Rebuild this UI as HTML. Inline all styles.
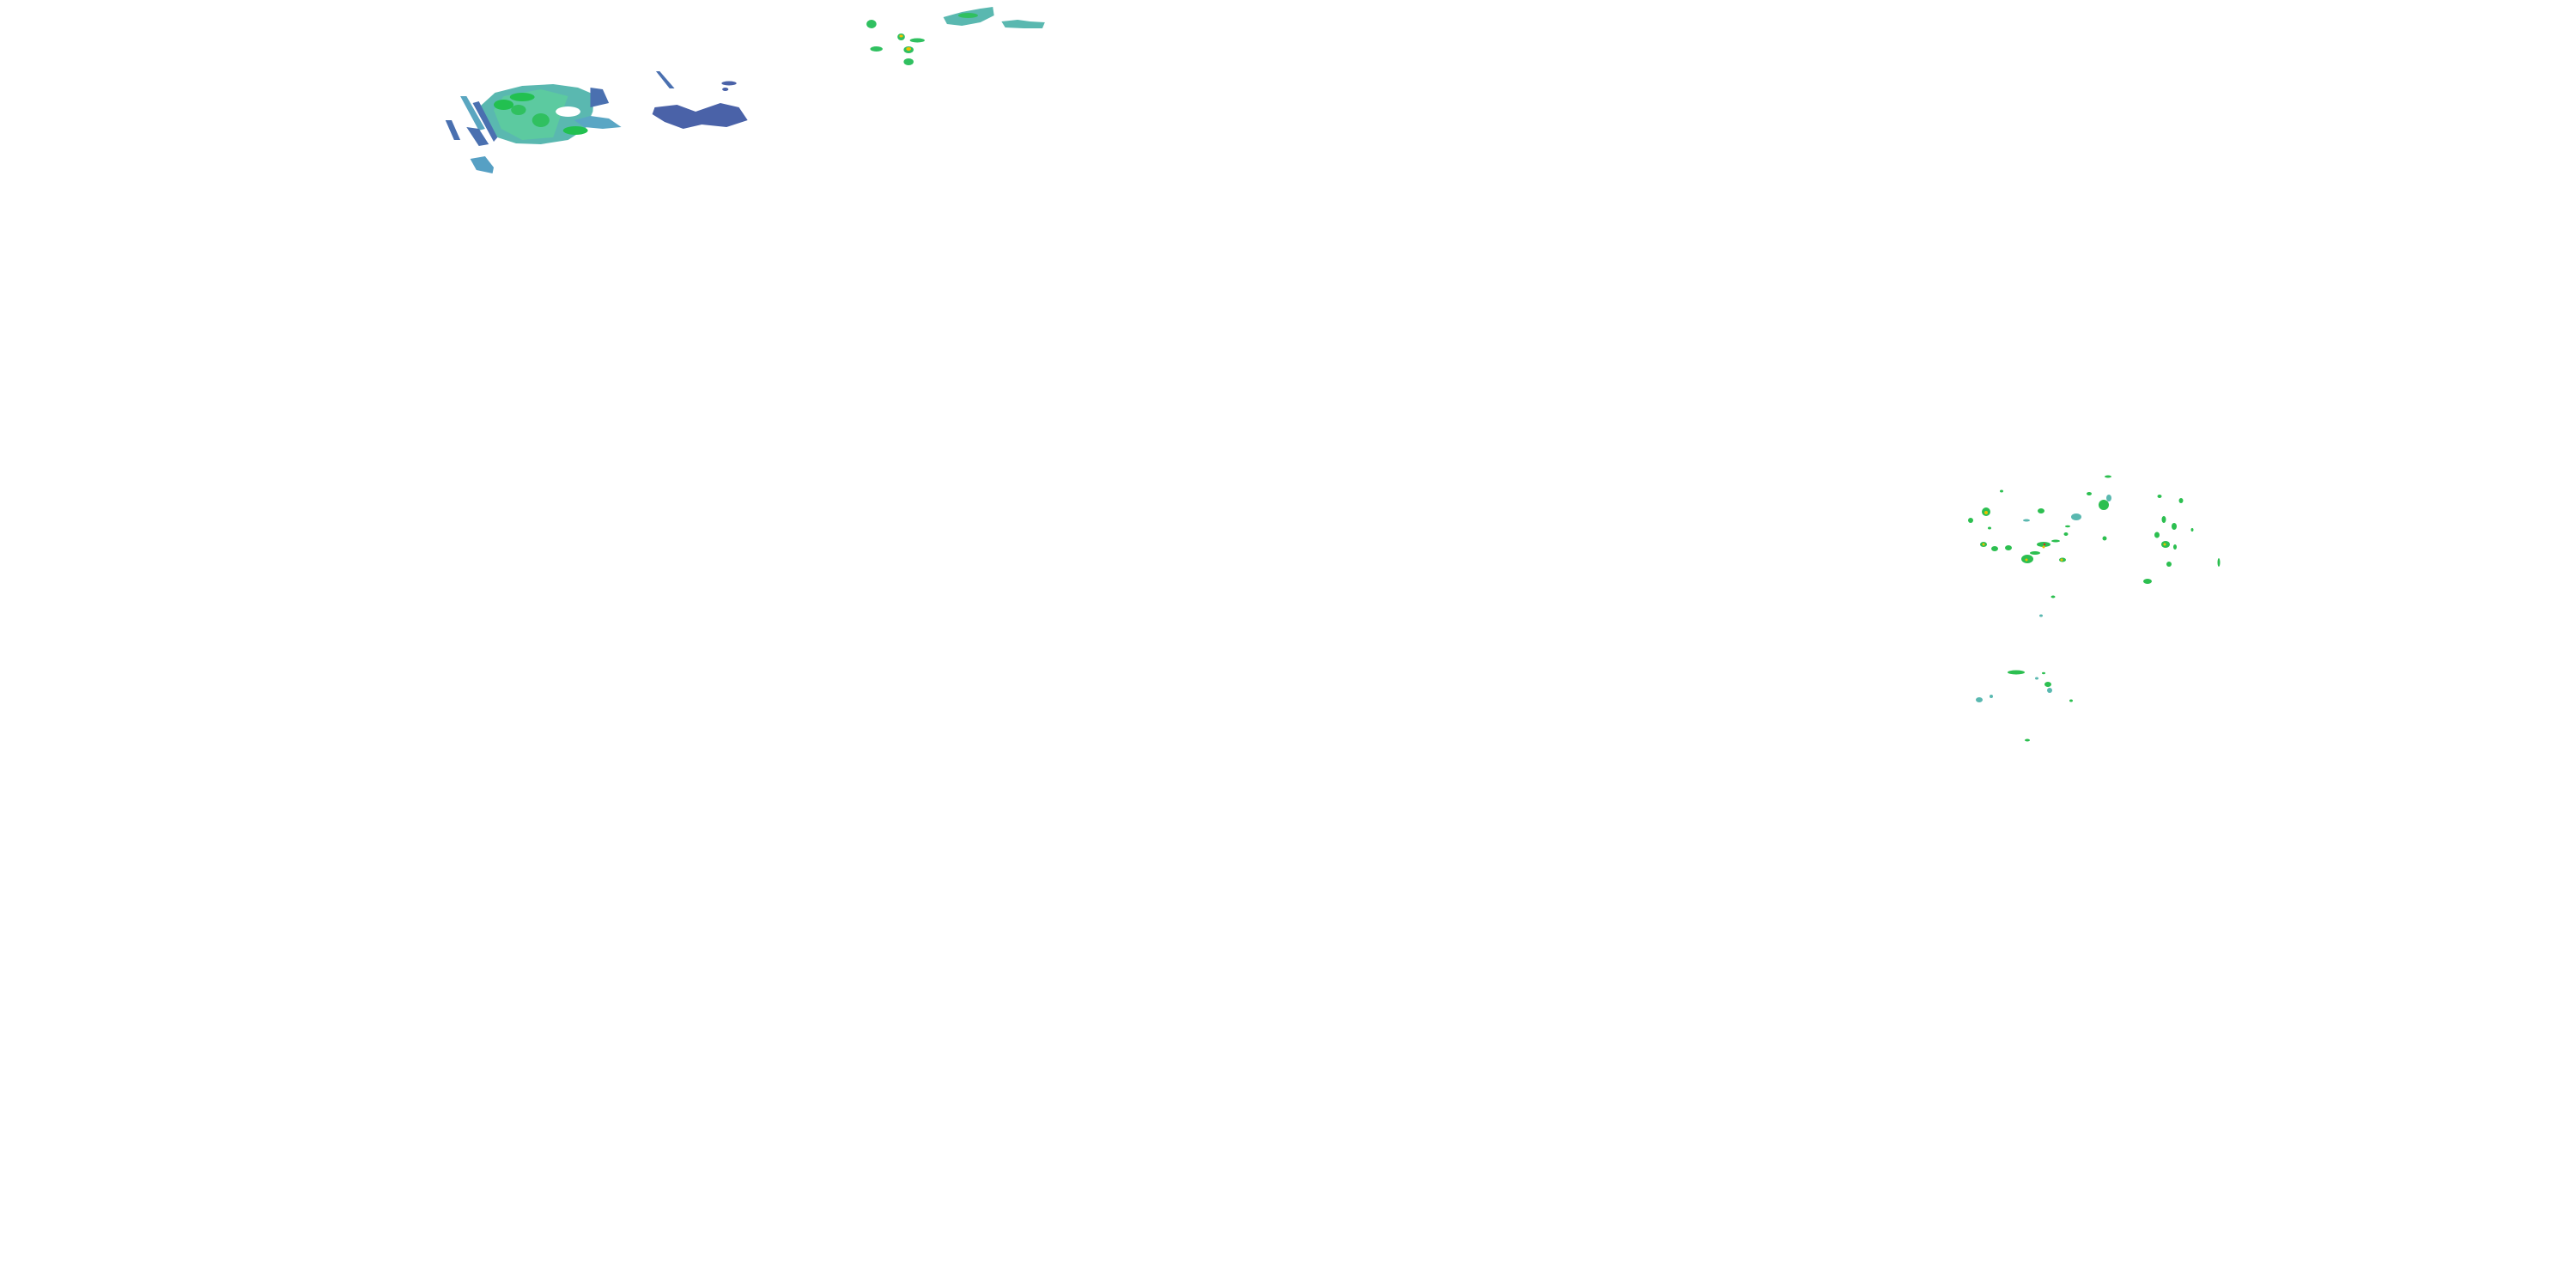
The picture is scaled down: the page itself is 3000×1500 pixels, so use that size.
<!DOCTYPE html>
<html><head><meta charset="utf-8"><style>html,body{margin:0;padding:0;background:#fff}svg{display:block}</style></head>
<body>
<svg width="3000" height="1500" viewBox="0 0 3000 1500" xmlns="http://www.w3.org/2000/svg">
<rect width="3000" height="1500" fill="#fff"/>
<g transform="translate(500,0) scale(1.4423,1) translate(-500,0)">
<g>
<polygon points="553,108 575,100 600,98 620,102 633,110 632,130 626,150 612,163 590,168 570,167 555,160 545,145 540,125" fill="#5ab8b0"/>
<polygon points="560,112 590,104 612,112 606,135 600,160 575,163 558,150 552,128" fill="#5ccaa0"/>
<ellipse cx="575" cy="113" rx="10" ry="5" fill="#22c050"/>
<ellipse cx="560" cy="122" rx="8" ry="6" fill="#22c050"/>
<ellipse cx="572" cy="128" rx="6" ry="6" fill="#30c060"/>
<ellipse cx="590" cy="140" rx="7" ry="8" fill="#30c060"/>
<ellipse cx="618" cy="152" rx="10" ry="5" fill="#22c050"/>
<ellipse cx="612" cy="130" rx="10" ry="6" fill="#fff"/>
<polygon points="535,120 540,118 555,160 552,165" fill="#4a70b0"/>
<polygon points="525,112 530,112 545,150 540,152" fill="#5aa6c0"/>
<polygon points="513,140 518,140 525,163 520,163" fill="#4a70b0"/>
<polygon points="530,148 540,150 548,168 540,170" fill="#4a70b0"/>
<polygon points="533,185 545,182 552,195 551,202 538,198" fill="#56a0c4"/>
<polygon points="617,140 630,135 645,138 655,148 640,150 625,148" fill="#5aa6c4"/>
<polygon points="630,102 640,104 645,120 630,125" fill="#4a70b0"/>
</g>
<polygon points="682,125 700,122 715,130 735,120 750,125 757,140 740,148 720,145 705,150 690,142 680,133" fill="#4a62a8"/>
<polygon points="683,83 686,83 698,103 694,103" fill="#4a70b0"/>
<ellipse cx="742" cy="97" rx="6" ry="2.5" fill="#4a62a8"/>
<ellipse cx="739" cy="104" rx="2.5" ry="2" fill="#4a62a8"/>
<polygon points="915,20 930,14 945,10 955,8 956,18 945,26 930,30 918,28" fill="#5ab8b0"/>
<ellipse cx="935" cy="18" rx="8" ry="3" fill="#30c060"/>
<polygon points="962,25 975,23 985,25 997,26 995,33 980,33 965,32" fill="#5ab8b0"/>
<g fill="#30c060">
<ellipse cx="857" cy="28" rx="4" ry="5"/>
<ellipse cx="881" cy="43" rx="3" ry="4"/>
<ellipse cx="894" cy="47" rx="6" ry="2.5"/>
<ellipse cx="887" cy="58" rx="4" ry="4"/>
<ellipse cx="861" cy="57" rx="5" ry="3"/>
<ellipse cx="887" cy="72" rx="4" ry="4"/>
</g>
<circle cx="887" cy="57" r="2" fill="#f0c000"/>
<circle cx="881" cy="42" r="1.5" fill="#f0c000"/>
</g>
<g fill="#2cbf50">
<ellipse cx="2313" cy="596" rx="5" ry="5"/><ellipse cx="2295" cy="606" rx="3" ry="3"/>
<ellipse cx="2310" cy="634" rx="4" ry="3"/><ellipse cx="2323" cy="639" rx="4" ry="3"/>
<ellipse cx="2339" cy="638" rx="4" ry="3"/><ellipse cx="2361" cy="651" rx="7" ry="5"/>
<ellipse cx="2370" cy="644" rx="6" ry="2"/><ellipse cx="2380" cy="634" rx="8" ry="3"/>
<ellipse cx="2377" cy="595" rx="4" ry="3"/><ellipse cx="2450" cy="588" rx="6" ry="6"/>
<ellipse cx="2433" cy="575" rx="3" ry="2"/><ellipse cx="2455" cy="555" rx="4" ry="1.5"/>
<ellipse cx="2402" cy="652" rx="4" ry="2.5"/><ellipse cx="2406" cy="622" rx="2.5" ry="2"/>
<ellipse cx="2451" cy="627" rx="2.5" ry="2.5"/><ellipse cx="2515" cy="578" rx="2.5" ry="2"/>
<ellipse cx="2540" cy="583" rx="2.5" ry="3"/><ellipse cx="2520" cy="605" rx="2.5" ry="4"/>
<ellipse cx="2532" cy="613" rx="3" ry="4"/><ellipse cx="2512" cy="623" rx="3" ry="3.5"/>
<ellipse cx="2522" cy="634" rx="5" ry="4"/><ellipse cx="2533" cy="637" rx="2" ry="3"/>
<ellipse cx="2526" cy="657" rx="3" ry="3"/><ellipse cx="2501" cy="677" rx="5" ry="3"/>
<ellipse cx="2584" cy="655" rx="1.5" ry="5"/><ellipse cx="2553" cy="617" rx="1.5" ry="2"/>
<ellipse cx="2331" cy="572" rx="2" ry="1.5"/><ellipse cx="2317" cy="615" rx="2" ry="1.5"/>
<ellipse cx="2391" cy="695" rx="2.5" ry="1.5"/><ellipse cx="2348" cy="783" rx="10" ry="2.5"/>
<ellipse cx="2380" cy="784" rx="2" ry="1.2"/><ellipse cx="2385" cy="797" rx="4" ry="3"/>
<ellipse cx="2412" cy="816" rx="2" ry="1.5"/><ellipse cx="2361" cy="862" rx="3" ry="1.5"/>
<ellipse cx="2408" cy="613" rx="3" ry="1.2"/><ellipse cx="2394" cy="630" rx="5" ry="1.5"/>
</g>
<g fill="#5ab8b0">
<ellipse cx="2418" cy="602" rx="6" ry="4"/><ellipse cx="2360" cy="606" rx="4" ry="1.5"/>
<ellipse cx="2377" cy="717" rx="2" ry="1.5"/><ellipse cx="2387" cy="804" rx="3" ry="3"/>
<ellipse cx="2372" cy="790" rx="2" ry="1.5"/><ellipse cx="2305" cy="815" rx="4" ry="3"/>
<ellipse cx="2319" cy="811" rx="2" ry="2"/><ellipse cx="2456" cy="580" rx="3" ry="4"/>
</g>
<g fill="#e8c000">
<circle cx="2313" cy="597" r="2"/><circle cx="2310" cy="634" r="1.5"/>
<circle cx="2360" cy="652" r="1.5"/><circle cx="2401" cy="652" r="1.5"/>
<circle cx="2521" cy="634" r="1.5"/><circle cx="2380" cy="637" r="1.5"/>
</g>
<circle cx="2381" cy="634" r="1.2" fill="#e02020"/>
</svg>
</body></html>
